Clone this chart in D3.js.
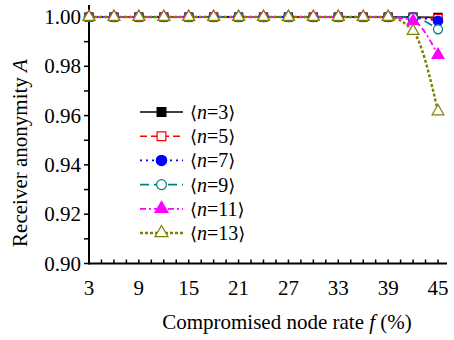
<!DOCTYPE html>
<html><head><meta charset="utf-8">
<script src="https://cdn.jsdelivr.net/npm/d3@7"></script>
</head>
<body style="margin:0;background:#fff">
<svg id="c" width="454" height="340"></svg>
<script>
const xValues = [3,6,9,12,15,18,21,24,27,30,33,36,39,42,45];
const xTickLabels = [3,9,15,21,27,33,39,45];
const yTickLabels = [0.90,0.92,0.94,0.96,0.98,1.00];
const seriesNames = ["n=3","n=5","n=7","n=9","n=11","n=13"];
const n3  = [1,1,1,1,1,1,1,1,1,1,1,1,1,1.0000,0.9999];
const n5  = [1,1,1,1,1,1,1,1,1,1,1,1,1,0.9999,0.9994];
const n7  = [1,1,1,1,1,1,1,1,1,1,1,1,1,0.9998,0.9984];
const n9  = [1,1,1,1,1,1,1,1,1,1,1,1,1,0.9997,0.9950];
const n11 = [1,1,1,1,1,1,1,1,1,1,1,1,1,0.9984,0.9846];
const n13 = [1,1,1,1,1,1,1,1,1,1,1,1,1,0.9943,0.9617];
const seriesValues = [n3,n5,n7,n9,n11,n13];

const styles = [
  {color:"#000000", dash:null,        sym:d3.symbolSquare,   size:64, fill:true,  w:1.6},
  {color:"#ff0000", dash:"7,4",       sym:d3.symbolSquare,   size:64, fill:false, w:1.4},
  {color:"#0000ff", dash:"2,4",       sym:d3.symbolCircle,   size:70, fill:true,  w:1.8},
  {color:"#008080", dash:"9,5",       sym:d3.symbolCircle,   size:64, fill:false, w:1.6},
  {color:"#ff00ff", dash:"6,3,2,3",   sym:d3.symbolTriangle, size:60, fill:true,  w:1.8},
  {color:"#808000", dash:"3,2",       sym:d3.symbolTriangle, size:60, fill:false, w:2.4}
];

const svg = d3.select("#c");
const FF = '"Liberation Serif"';
const x = d3.scaleLinear().domain([3,45]).range([89,438]);
const y = d3.scaleLinear().domain([0.90,1.00]).range([263.5,17]);

const axG = svg.append("g");
axG.append("line").attr("x1",x(3)-0.5).attr("x2",447).attr("y1",y(0.9)).attr("y2",y(0.9))
  .attr("stroke","#000").attr("stroke-width",2);
axG.append("line").attr("x1",x(3)).attr("x2",x(3)).attr("y1",5).attr("y2",y(0.9)+1)
  .attr("stroke","#000").attr("stroke-width",2);

const xMinor = d3.range(3,45.01,1.5);
axG.selectAll(".xt").data(xMinor).enter().append("line")
  .attr("x1",d=>x(d)).attr("x2",d=>x(d))
  .attr("y1",y(0.9)).attr("y2",y(0.9)-4)
  .attr("stroke","#000").attr("stroke-width",1.5);
axG.selectAll(".xl").data(xTickLabels).enter().append("text")
  .attr("x",d=>x(d)).attr("y",295).attr("text-anchor","middle")
  .style("font-family",FF).style("font-size","21px").text(d=>d);

const yMinor = d3.range(0,11).map(i=>0.90+i*0.01);
axG.selectAll(".yt").data(yMinor).enter().append("line")
  .attr("x1",x(3)-5).attr("x2",x(3)).attr("y1",d=>y(d)).attr("y2",d=>y(d))
  .attr("stroke","#000").attr("stroke-width",1.5);
axG.selectAll(".yl").data(yTickLabels).enter().append("text")
  .attr("x",81).attr("y",d=>y(d)+7).attr("text-anchor","end")
  .style("font-family",FF).style("font-size","21px").text(d=>d.toFixed(2));

const xt = svg.append("text").attr("x",287).attr("y",329).attr("text-anchor","middle")
  .style("font-family",FF).style("font-size","21px");
xt.append("tspan").text("Compromised node rate ");
xt.append("tspan").style("font-style","italic").text("f");
xt.append("tspan").text(" (%)");
const yt = svg.append("text").attr("transform","translate(27,153) rotate(-90)").attr("text-anchor","middle")
  .style("font-family",FF).style("font-size","21px");
yt.append("tspan").text("Receiver anonymity ");
yt.append("tspan").style("font-style","italic").text("A");

const line = d3.line().x(d=>x(d[0])).y(d=>y(d[1])).curve(d3.curveMonotoneX);
const plot = svg.append("g");
seriesValues.forEach((vals,i)=>{
  const s = styles[i];
  const pts = xValues.map((xv,j)=>[xv,vals[j]]);
  plot.append("path").attr("d",line(pts)).attr("fill","none")
    .attr("stroke",s.color).attr("stroke-width",s.w)
    .attr("stroke-dasharray",s.dash);
});
seriesValues.forEach((vals,i)=>{
  const s = styles[i];
  const pts = xValues.map((xv,j)=>[xv,vals[j]]);
  plot.selectAll(".m"+i).data(pts).enter().append("path")
    .attr("d",d3.symbol().type(s.sym).size(s.size))
    .attr("transform",d=>`translate(${x(d[0])},${y(d[1])})`)
    .attr("fill",s.fill?s.color:"#fff").attr("stroke",s.color).attr("stroke-width",1.2);
});

const leg = svg.append("g");
seriesNames.forEach((nm,i)=>{
  const s = styles[i];
  const yy = 112 + i*24.2;
  leg.append("line").attr("x1",140).attr("x2",183).attr("y1",yy).attr("y2",yy)
    .attr("stroke",s.color).attr("stroke-width",s.w).attr("stroke-dasharray",s.dash);
  leg.append("path").attr("d",d3.symbol().type(s.sym).size(s.size*1.2)())
    .attr("transform",`translate(161.5,${yy})`)
    .attr("fill",s.fill?s.color:"#fff").attr("stroke",s.color).attr("stroke-width",1.2);
  const t = leg.append("text").attr("x",190).attr("y",yy+7).style("font-family",FF).style("font-size","20px");
  t.append("tspan").style("font-family",'"DejaVu Serif"').style("font-size","18px").text("\u27E8");
  t.append("tspan").style("font-style","italic").text("n");
  t.append("tspan").text(nm.slice(1));
  t.append("tspan").style("font-family",'"DejaVu Serif"').style("font-size","18px").text("\u27E9");
});
</script>
</body></html>
